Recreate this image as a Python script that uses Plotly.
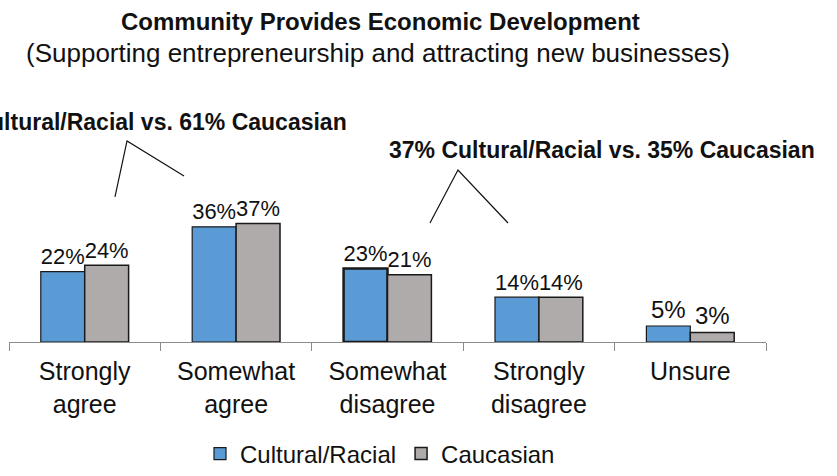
import plotly.graph_objects as go

categories = ["Strongly<br>agree", "Somewhat<br>agree", "Somewhat<br>disagree", "Strongly<br>disagree", "Unsure"]
cultural_racial = [22, 36, 23, 14, 5]
caucasian = [24, 37, 21, 14, 3]
series_names = ["Cultural/Racial", "Caucasian"]
callout_texts = ["58% Cultural/Racial vs. 61% Caucasian", "37% Cultural/Racial vs. 35% Caucasian"]
title_text = "Community Provides Economic Development"
subtitle_text = "(Supporting entrepreneurship and attracting new businesses)"

W, H = 837, 476
ML, MR, MT, MB = 9, 71, 100, 134
PW, PH = W - ML - MR, H - MT - MB
FONT = "Arial, Liberation Sans, sans-serif"


def px(x):
    return (x - ML) / PW


def py(y):
    return (H - MB - y) / PH


fig = go.Figure()
fig.add_trace(go.Bar(
    x=categories, y=cultural_racial, name=series_names[0],
    marker=dict(color="#5B9BD5", line=dict(color="#1a1a1a", width=[1.2, 1.2, 2.5, 1.2, 1.2])),
    text=[f"{v}%" for v in cultural_racial], textposition="outside",
    textfont=dict(size=24, color="#111", family=FONT), cliponaxis=False,
))
fig.add_trace(go.Bar(
    x=categories, y=caucasian, name=series_names[1],
    marker=dict(color="#AFABAB", line=dict(color="#1a1a1a", width=1.5)),
    text=[f"{v}%" for v in caucasian], textposition="outside",
    textfont=dict(size=24, color="#111", family=FONT), cliponaxis=False,
))

annotations = [
    dict(text=f"<b>{title_text}</b>", x=px(380), y=py(21), font=dict(size=24)),
    dict(text=subtitle_text, x=px(378), y=py(53), font=dict(size=26)),
    dict(text=f"<b>{callout_texts[0]}</b>", x=px(134), y=py(122), font=dict(size=23)),
    dict(text=f"<b>{callout_texts[1]}</b>", x=px(602), y=py(150), font=dict(size=23)),
]
for a in annotations:
    a.update(xref="paper", yref="paper", showarrow=False, xanchor="center", yanchor="middle")
    a["font"].update(family=FONT, color="#111")

shapes = []
for pts in [[(115, 197), (127, 141), (184, 176)], [(430, 223), (458, 170), (508, 223)]]:
    path = "M " + " L ".join(f"{px(x):.4f},{py(y):.4f}" for x, y in pts)
    shapes.append(dict(type="path", path=path, xref="paper", yref="paper",
                       line=dict(color="#111", width=1.2)))

fig.update_layout(
    width=W, height=H,
    margin=dict(l=ML, r=MR, t=MT, b=MB, autoexpand=False),
    paper_bgcolor="white", plot_bgcolor="white",
    barmode="group", bargap=0.42, bargroupgap=0,
    font=dict(family=FONT, color="#111"),
    showlegend=True,
    legend=dict(orientation="h", x=px(380), y=py(454), xanchor="center", yanchor="middle",
                font=dict(size=24, family=FONT, color="#111"), itemwidth=30,
                traceorder="normal"),
    annotations=annotations,
    shapes=shapes,
    xaxis=dict(showline=True, linecolor="#8c8c8c", linewidth=1.2, automargin=False,
               ticks="outside", tickson="boundaries", ticklen=8, tickcolor="#8c8c8c",
               ticklabelstandoff=7,
               tickfont=dict(size=25, family=FONT, color="#111"), showgrid=False),
    yaxis=dict(range=[0, PH / 3.2], visible=False, showgrid=False, zeroline=False,
               automargin=False),
)

fig.write_html("out.html", config={"displayModeBar": False},
               post_script="document.body.style.margin='0';")
